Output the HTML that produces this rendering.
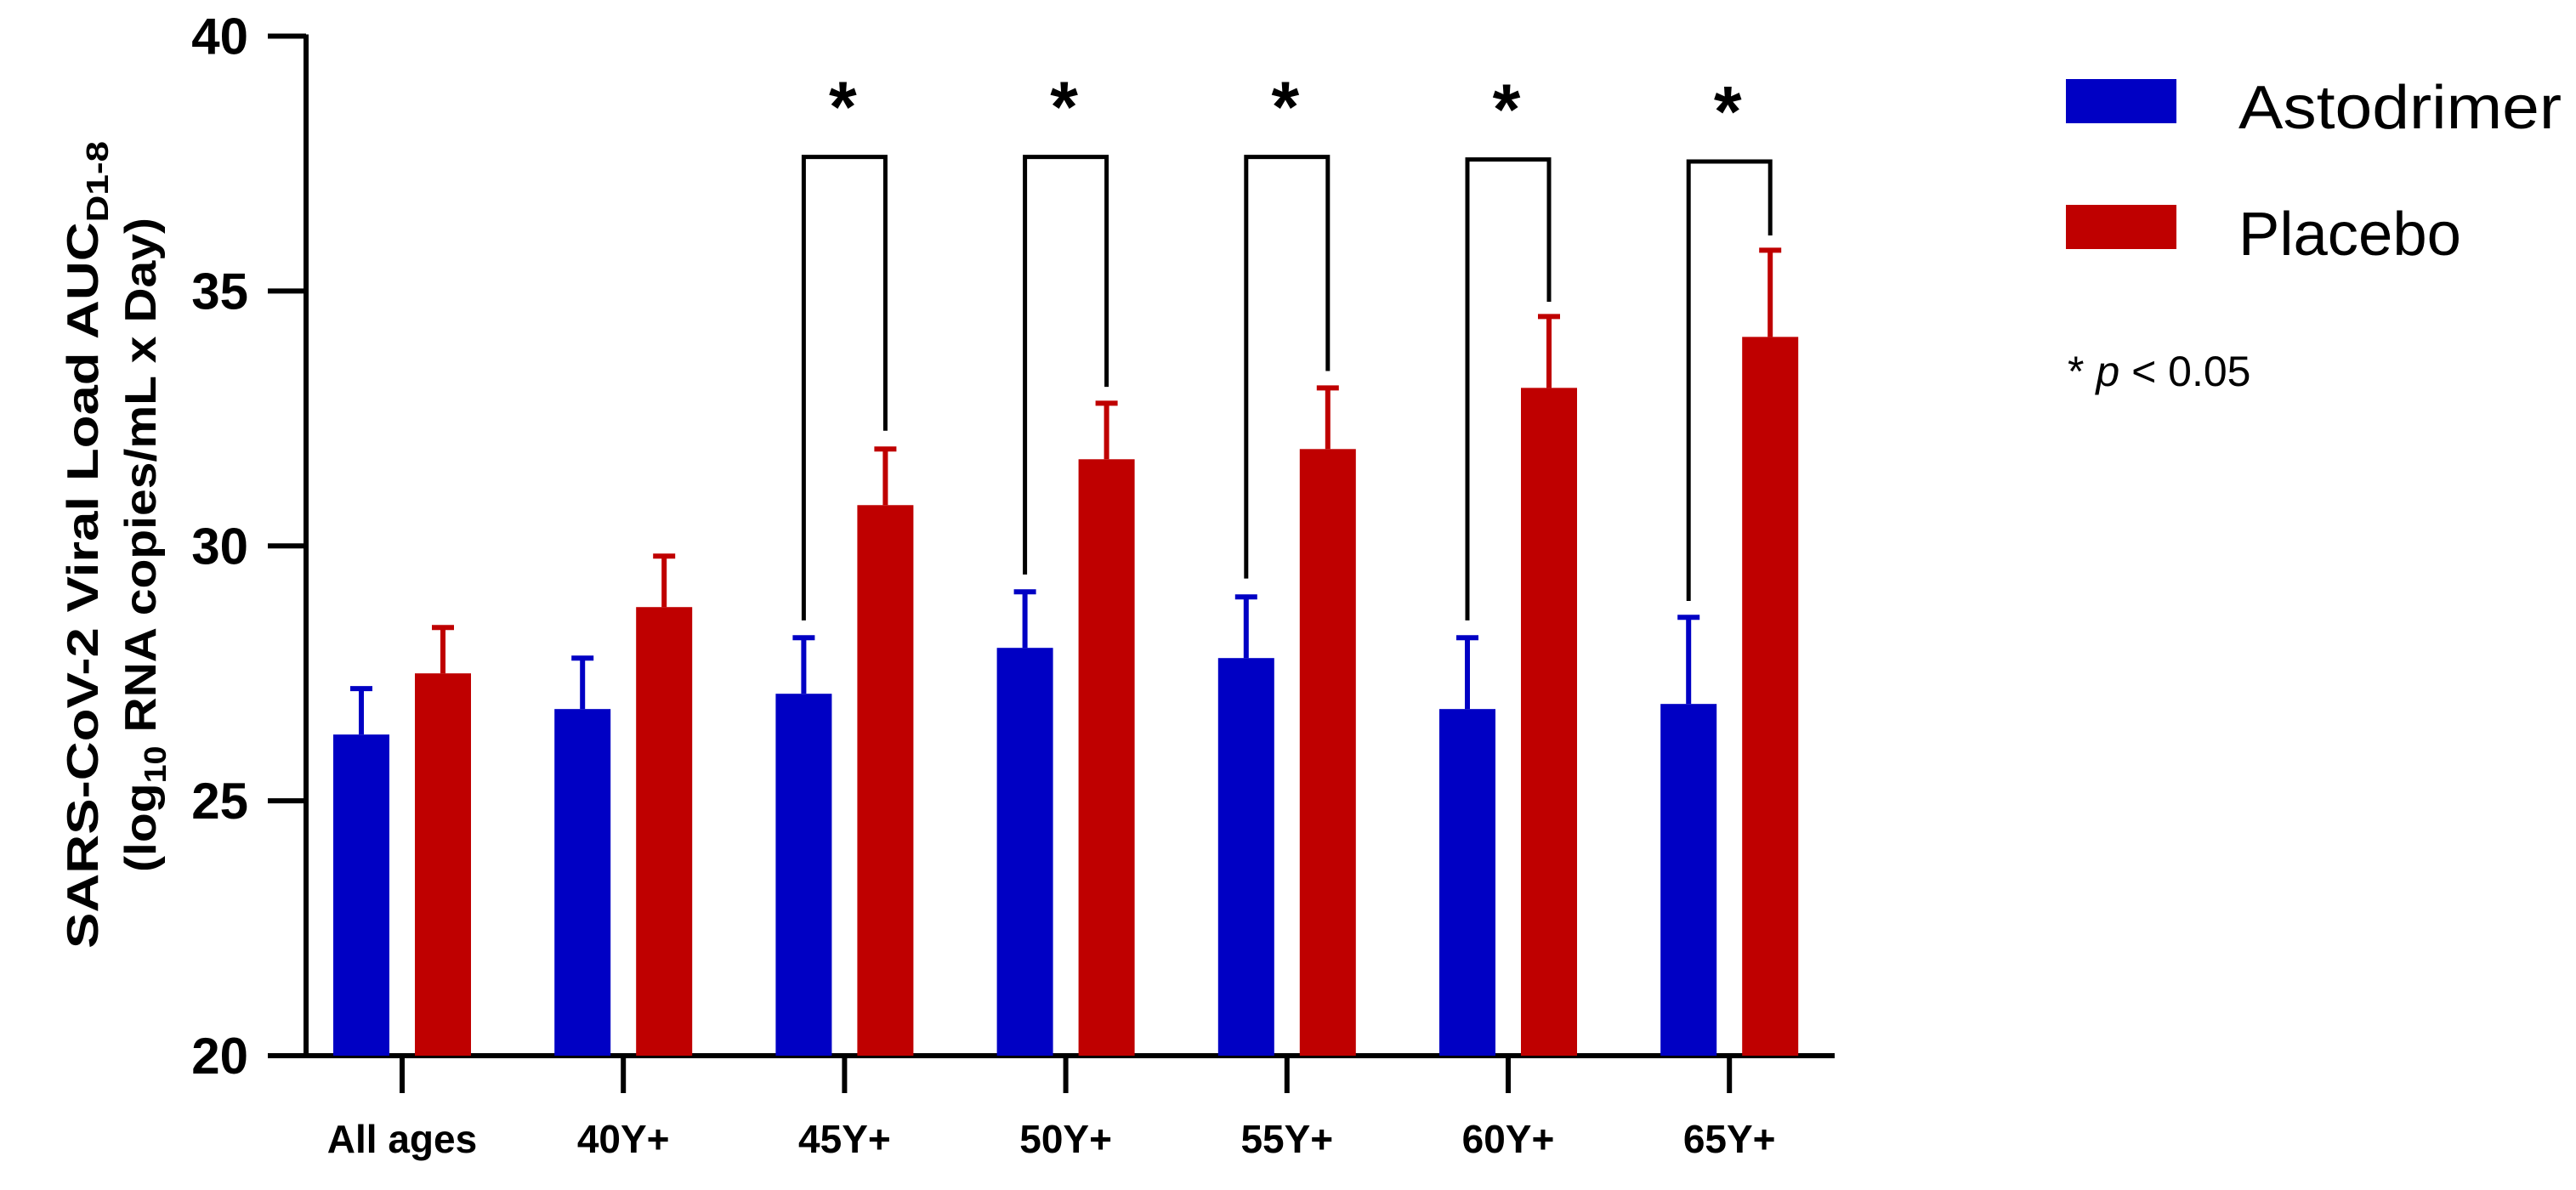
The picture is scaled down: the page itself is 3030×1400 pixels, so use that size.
<!DOCTYPE html>
<html><head><meta charset="utf-8"><style>
html,body{margin:0;padding:0;background:#fff;}
svg{display:block;font-family:"Liberation Sans",sans-serif;}
</style></head><body>
<svg id="chart" width="3030" height="1400" viewBox="0 0 3030 1400" xmlns="http://www.w3.org/2000/svg">
<g id="yaxis"></g>
<g id="xaxis"></g>
<g id="bars"></g>
<g id="sig"></g>
<g font-weight="bold" font-size="52">
<text transform="translate(115,641) rotate(-90)" text-anchor="middle" textLength="950" lengthAdjust="spacingAndGlyphs">SARS-CoV-2 Viral Load AUC<tspan font-size="36" dy="12">D1-8</tspan></text>
<text transform="translate(183,641) rotate(-90)" text-anchor="middle" textLength="770" lengthAdjust="spacingAndGlyphs">(log<tspan font-size="36" dy="12">10</tspan><tspan dy="-12"> RNA copies/mL x Day)</tspan></text>
</g>
<g>
<rect x="2430" y="93" width="130" height="52" fill="#0000c4"/>
<text x="2633" y="151" font-size="72" textLength="380" lengthAdjust="spacingAndGlyphs">Astodrimer</text>
<rect x="2430" y="241" width="130" height="52" fill="#bf0000"/>
<text x="2633" y="300" font-size="72" textLength="262" lengthAdjust="spacingAndGlyphs">Placebo</text>
<text x="2432" y="454" font-size="50">* <tspan font-style="italic">p</tspan> &lt; 0.05</text>
</g>
</svg>
<script>
const categories = ["All ages","40Y+","45Y+","50Y+","55Y+","60Y+","65Y+"];
const astodrimer = [26.3,26.8,27.1,28.0,27.8,26.8,26.9];
const astodrimerErr = [27.2,27.8,28.2,29.1,29.0,28.2,28.6];
const placebo = [27.5,28.8,30.8,31.7,31.9,33.1,34.1];
const placeboErr = [28.4,29.8,31.9,32.8,33.1,34.5,35.8];
const yTicks = [20,25,30,35,40];
const sigCats = ["45Y+","50Y+","55Y+","60Y+","65Y+"];
const sigTop = [37.63,37.63,37.63,37.58,37.54];
const sigLeft = [28.54,29.44,29.36,28.54,28.92];
const sigRight = [32.26,33.12,33.43,34.79,36.09];

const NS="http://www.w3.org/2000/svg";
const y0=1242, y1=42.5, vmin=20, vmax=40;
const yS=v=>y0-(v-vmin)/(vmax-vmin)*(y0-y1);
const xS=i=>473+i*260.2;
function mk(tag,attrs,parent){const e=document.createElementNS(NS,tag);for(const k in attrs)e.setAttribute(k,attrs[k]);parent.appendChild(e);return e;}
const ya=document.getElementById('yaxis'),xa=document.getElementById('xaxis'),bars=document.getElementById('bars'),sig=document.getElementById('sig');
let l=mk('line',{x1:360,x2:360,y1:y1-2,y2:y0+3,stroke:'#000','stroke-width':6},ya);


yTicks.forEach(t=>{
 let tk=mk('line',{x1:315,x2:360,y1:yS(t),y2:yS(t),stroke:'#000','stroke-width':6},ya);
 
 
 let tx=mk('text',{x:292,y:yS(t)+21,'text-anchor':'end','font-size':60,'font-weight':'bold'},ya);
 tx.textContent=t;
 
 
});
l=mk('line',{x1:357,x2:2158,y1:y0,y2:y0,stroke:'#000','stroke-width':6},xa);


categories.forEach((c,i)=>{
 const x=xS(i);
 let tk=mk('line',{x1:x,x2:x,y1:y0,y2:1286,stroke:'#000','stroke-width':6},xa);
 
 
 let tx=mk('text',{x:x,y:1356,'text-anchor':'middle','font-size':46,'font-weight':'bold'},xa);
 tx.textContent=c;
 
 
 [[astodrimer,astodrimerErr,-48,'#0000c4','astodrimer'],[placebo,placeboErr,48,'#bf0000','placebo']].forEach(([vals,errs,off,col,nm])=>{
  const cx=x+off;
  let r=mk('rect',{x:cx-33,y:yS(vals[i]),width:66,height:y0-yS(vals[i]),fill:col},bars);
  
  
  let e=mk('path',{d:`M${cx} ${yS(vals[i])}V${yS(errs[i])}M${cx-13} ${yS(errs[i])}H${cx+13}`,stroke:col,'stroke-width':6,fill:'none'},bars);
  
  
 });
});
sigCats.forEach((c,j)=>{
 const i=categories.indexOf(c),xl=xS(i)-48,xr=xS(i)+48;
 let p=mk('path',{d:`M${xl} ${yS(sigLeft[j])}V${yS(sigTop[j])}H${xr}V${yS(sigRight[j])}`,stroke:'#000','stroke-width':5,fill:'none'},sig);
 
 
 let s=mk('text',{x:xS(i)-2,y:yS(sigTop[j])-30,'text-anchor':'middle','font-size':84,'font-weight':'bold'},sig);
 s.textContent='*';
 
 
});
</script>
</body></html>
